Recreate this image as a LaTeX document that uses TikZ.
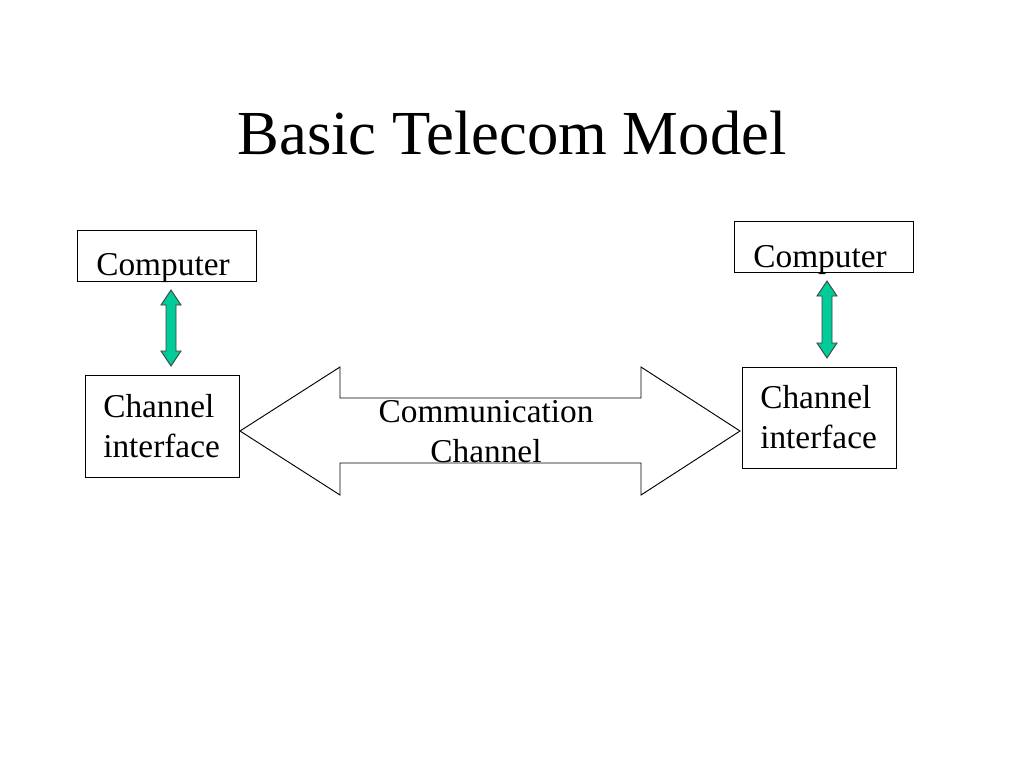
\documentclass[tikz,border=0pt]{standalone}
\usepackage{fontspec}
\setmainfont{Liberation Serif}
\definecolor{teal1}{RGB}{0,204,153}
\begin{document}
\begin{tikzpicture}[x=0.75pt,y=-0.75pt,
  box/.style={draw=black,line width=0.7pt,inner sep=0pt},
  lbl/.style={inner sep=0pt,font=\fontsize{25}{30}\selectfont},
  garrow/.style={draw=black!75,fill=teal1,line width=0.7pt,line join=miter},
  bigarrow/.style={draw=black,fill=white,line width=0.7pt,line join=miter}]
\useasboundingbox (0,0) rectangle (1024,768);
\fill[white] (0,0) rectangle (1024,768);
% title
\node[inner sep=0pt,anchor=base,font=\fontsize{47}{56}\selectfont] (title) at (512,154) {Basic Telecom Model};
% boxes
\node[box,minimum width=179*0.75pt,minimum height=51*0.75pt] (comp1) at (166.5,255.5) {};
\node[box,minimum width=179*0.75pt,minimum height=51*0.75pt] (comp2) at (823.5,246.5) {};
\node[box,minimum width=154*0.75pt,minimum height=102*0.75pt] (ci1) at (162,426) {};
\node[box,minimum width=154*0.75pt,minimum height=101*0.75pt] (ci2) at (819,417.5) {};
% labels
\node[lbl,anchor=base] (comp1t) at (163,275) {Computer};
\node[lbl,anchor=base] (comp2t) at (820,267) {Computer};
\node[lbl,anchor=base west] (ci1a) at (103,417) {Channel};
\node[lbl,anchor=base west] (ci1b) at (103,457) {interface};
\node[lbl,anchor=base west] (ci2a) at (760,408) {Channel};
\node[lbl,anchor=base west] (ci2b) at (760,448) {interface};
% big double arrow
\draw[bigarrow] (240,431) -- (340,367) -- (340,398) -- (641,398) -- (641,367) -- (740,431)
  -- (641,495) -- (641,463) -- (340,463) -- (340,495) -- cycle;
\node[lbl,anchor=base] (cc1) at (486,422) {Communication};
\node[lbl,anchor=base] (cc2) at (486,462) {Channel};
% green arrows
\draw[garrow] (171,290) -- (181,305) -- (176,305) -- (176,351) -- (181,351) -- (171,366)
  -- (161,351) -- (166,351) -- (166,305) -- (161,305) -- cycle;
\draw[garrow] (827,281) -- (837,296) -- (832,296) -- (832,343) -- (837,343) -- (827,358)
  -- (817,343) -- (822,343) -- (822,296) -- (817,296) -- cycle;
\end{tikzpicture}
\end{document}
